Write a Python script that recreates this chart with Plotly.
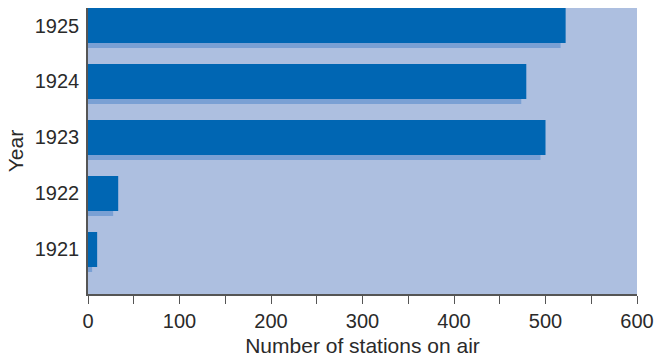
import plotly.graph_objects as go

years = ["1921", "1922", "1923", "1924", "1925"]
stations = [10, 33, 500, 479, 522]
positions = [0, 1, 2, 3, 4]

shadow_shift_x = 5.5   # data units (visual drop-shadow)
shadow_shift_y = 0.09  # category units
bar_width = 0.625

fig = go.Figure()
fig.add_trace(go.Bar(
    x=[v - shadow_shift_x for v in stations],
    y=[p - shadow_shift_y for p in positions],
    orientation="h", width=bar_width,
    marker=dict(color="#7aa0d4", line=dict(width=0)),
    hoverinfo="skip", showlegend=False,
))
fig.add_trace(go.Bar(
    x=stations, y=positions, orientation="h", width=bar_width,
    marker=dict(color="#0066b3", line=dict(width=0)),
    showlegend=False,
))

font = "Liberation Sans, Arial, sans-serif"
fig.update_layout(
    width=656, height=361,
    margin=dict(l=88, r=19, t=8, b=67),
    barmode="overlay",
    paper_bgcolor="white",
    plot_bgcolor="#adbfe0",
    font=dict(family=font, size=20, color="#2a2a2a"),
    xaxis=dict(
        automargin=False,
        range=[0, 600], tickvals=[0, 100, 200, 300, 400, 500, 600],
        ticks="outside", ticklen=8, tickcolor="#555555", tickwidth=1.3,
        minor=dict(dtick=50, tick0=0, ticks="outside", ticklen=8,
                   tickcolor="#555555", tickwidth=1.3),
        showgrid=False, zeroline=False,
        showline=True, linecolor="#555555", linewidth=1.5,
        title=dict(text="Number of stations on air", standoff=8,
                   font=dict(size=21)),
        tickfont=dict(size=20),
    ),
    yaxis=dict(
        automargin=False,
        range=[-0.795, 4.3125],
        tickvals=positions, ticktext=years,
        ticks="outside", ticklen=0, ticklabelstandoff=3,
        showgrid=False, zeroline=False,
        showline=True, linecolor="#555555", linewidth=1.5,
        title=dict(text="Year", standoff=5, font=dict(size=21)),
        tickfont=dict(size=20),
    ),
)

fig.write_html("out.html")
